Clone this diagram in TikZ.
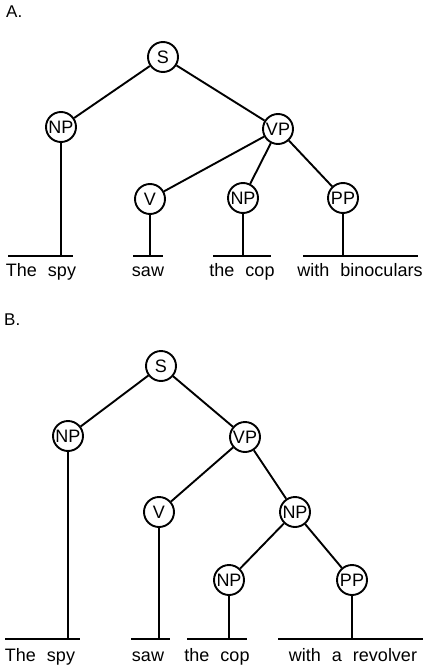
\documentclass[tikz,border=0pt]{standalone}
\usepackage{fontspec}
\setmainfont[WordSpace=2.2]{Liberation Sans}
\begin{document}
\begin{tikzpicture}[x=1pt,y=-1pt,
  cat/.style={circle,draw,line width=1.9pt,minimum size=30pt,inner sep=0pt,font=\fontsize{18}{20}\selectfont},
  word/.style={anchor=base,inner sep=0pt,font=\fontsize{18}{20}\selectfont},
  lbl/.style={anchor=base west,inner sep=0pt,font=\fontsize{17}{20}\selectfont},
  edge/.style={line width=1.9pt}]
\useasboundingbox (0,0) rectangle (435,666);
% ---------- A ----------
\node[lbl] (la) at (6,18) {A.};
\node[cat] (aS) at (163,57) {S};
\node[cat] (aNP) at (61,127) {NP};
\node[cat] (aVP) at (278,129) {VP};
\node[cat] (aV) at (150,199) {V};
\node[cat] (aNP2) at (243,198) {NP};
\node[cat] (aPP) at (343,198) {PP};
\coordinate (aL1a) at (8,256); \coordinate (aL1b) at (73,256); \coordinate (aT1) at (61,256);
\coordinate (aL2a) at (133,256); \coordinate (aL2b) at (163,256); \coordinate (aT2) at (150,256);
\coordinate (aL3a) at (213,256); \coordinate (aL3b) at (271,256); \coordinate (aT3) at (243,256);
\coordinate (aL4a) at (303,256); \coordinate (aL4b) at (418,256); \coordinate (aT4) at (343,256);
\draw[edge] (aS) -- (aNP);
\draw[edge] (aS) -- (aVP);
\draw[edge] (aVP) -- (aV);
\draw[edge] (aVP) -- (aNP2);
\draw[edge] (aVP) -- (aPP);
\draw[edge] (aNP) -- (aT1); \draw[edge] (aL1a) -- (aL1b);
\draw[edge] (aV) -- (aT2); \draw[edge] (aL2a) -- (aL2b);
\draw[edge] (aNP2) -- (aT3); \draw[edge] (aL3a) -- (aL3b);
\draw[edge] (aPP) -- (aT4); \draw[edge] (aL4a) -- (aL4b);
\node[word] (aw1) at (41,276) {The spy};
\node[word] (aw2) at (148,276) {saw};
\node[word] (aw3) at (242,276) {the cop};
\node[word] (aw4) at (360,276) {with binoculars};
% ---------- B ----------
\node[lbl] (lb) at (4,325) {B.};
\node[cat] (bS) at (161,366) {S};
\node[cat] (bNP) at (68,436) {NP};
\node[cat] (bVP) at (245,437) {VP};
\node[cat] (bV) at (159,512) {V};
\node[cat] (bNP2) at (295,512) {NP};
\node[cat] (bNP3) at (229,580) {NP};
\node[cat] (bPP) at (352,580) {PP};
\coordinate (bL1a) at (5,639); \coordinate (bL1b) at (80,639); \coordinate (bT1) at (68,639);
\coordinate (bL2a) at (131,639); \coordinate (bL2b) at (170,639); \coordinate (bT2) at (159,639);
\coordinate (bL3a) at (187,639); \coordinate (bL3b) at (247,639); \coordinate (bT3) at (229,639);
\coordinate (bL4a) at (278,639); \coordinate (bL4b) at (423,639); \coordinate (bT4) at (352,639);
\draw[edge] (bS) -- (bNP);
\draw[edge] (bS) -- (bVP);
\draw[edge] (bVP) -- (bV);
\draw[edge] (bVP) -- (bNP2);
\draw[edge] (bNP2) -- (bNP3);
\draw[edge] (bNP2) -- (bPP);
\draw[edge] (bNP) -- (bT1); \draw[edge] (bL1a) -- (bL1b);
\draw[edge] (bV) -- (bT2); \draw[edge] (bL2a) -- (bL2b);
\draw[edge] (bNP3) -- (bT3); \draw[edge] (bL3a) -- (bL3b);
\draw[edge] (bPP) -- (bT4); \draw[edge] (bL4a) -- (bL4b);
\node[word] (bw1) at (40,661) {The spy};
\node[word] (bw2) at (148,661) {saw};
\node[word] (bw3) at (217,661) {the cop};
\node[word] (bw4) at (353,661) {with a revolver};
\end{tikzpicture}
\end{document}
